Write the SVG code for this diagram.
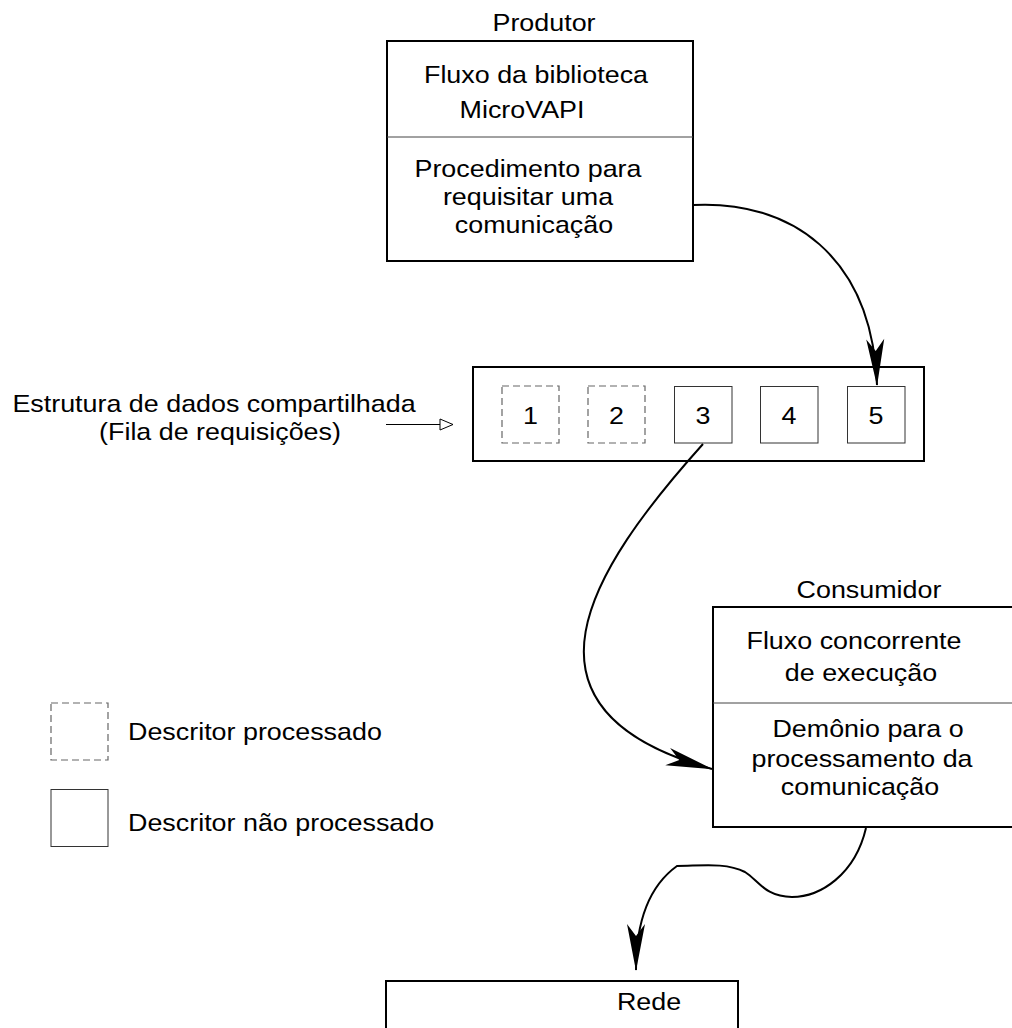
<svg xmlns="http://www.w3.org/2000/svg" width="1012" height="1028" viewBox="0 0 1012 1028">
  <style>
    text { font-family: "Liberation Sans", Arial, Helvetica, sans-serif; font-size: 24px; fill: #000; }
    .c { text-anchor: middle; }
    .box { fill: #fff; stroke: #000; stroke-width: 2; }
    .div { stroke: #444; stroke-width: 1; fill: none; }
    .slot { fill: #fff; stroke: #333; stroke-width: 1; }
    .done { fill: #fff; stroke: #666; stroke-width: 1.2; stroke-dasharray: 7 4; }
    .wire { fill: none; stroke: #000; stroke-width: 2; }
  </style>
  <defs>
    <!-- barbed filled arrowhead, tip at the path end -->
    <marker id="head" markerUnits="userSpaceOnUse" markerWidth="50" markerHeight="22" viewBox="-48 -11 50 22" refX="0" refY="0" orient="auto" overflow="visible">
      <path d="M1,0 L-46,-9 L-34,0 L-46,9 Z" fill="#000"/>
    </marker>
    <!-- open triangle pointer -->
    <marker id="open" markerUnits="userSpaceOnUse" markerWidth="16" markerHeight="14" viewBox="-14 -7 16 14" refX="0" refY="0" orient="auto" overflow="visible">
      <path d="M0,0 L-13,-5.5 L-13,5.5 Z" fill="#fff" stroke="#000" stroke-width="1"/>
    </marker>
  </defs>

  <rect width="1012" height="1028" fill="#fff"/>

  <!-- Produtor -->
  <g id="produtor">
    <text class="c" transform="translate(544 30.5) scale(1.12 1)">Produtor</text>
    <rect class="box" x="387" y="41" width="306" height="220"/>
    <line class="div" x1="387" y1="137" x2="693" y2="137"/>
    <text class="c" transform="translate(536 83) scale(1.12 1)">Fluxo da biblioteca</text>
    <text class="c" transform="translate(522 118) scale(1.12 1)">MicroVAPI</text>
    <text class="c" transform="translate(528 177) scale(1.12 1)">Procedimento para</text>
    <text class="c" transform="translate(528 205) scale(1.12 1)">requisitar uma</text>
    <text class="c" transform="translate(534 233) scale(1.12 1)">comunicação</text>
  </g>

  <!-- Fila de requisições -->
  <g id="fila">
    <text class="c" transform="translate(214 411.5) scale(1.12 1)">Estrutura de dados compartilhada</text>
    <text class="c" transform="translate(220 440) scale(1.12 1)">(Fila de requisições)</text>
    <rect class="box" x="473" y="367" width="451" height="94"/>
    <g id="d1"><rect class="done" x="502" y="386" width="57" height="57"/><text class="c" transform="translate(530.5 424) scale(1.12 1)">1</text></g>
    <g id="d2"><rect class="done" x="588" y="386" width="57" height="57"/><text class="c" transform="translate(616.5 424) scale(1.12 1)">2</text></g>
    <g id="d3"><rect class="slot" x="674.5" y="386.5" width="57.5" height="56.5"/><text class="c" transform="translate(703 424) scale(1.12 1)">3</text></g>
    <g id="d4"><rect class="slot" x="760.5" y="386.5" width="57.5" height="56.5"/><text class="c" transform="translate(789 424) scale(1.12 1)">4</text></g>
    <g id="d5"><rect class="slot" x="847.5" y="386.5" width="57.5" height="56.5"/><text class="c" transform="translate(876 424) scale(1.12 1)">5</text></g>
  </g>

  <!-- Consumidor -->
  <g id="consumidor">
    <text class="c" transform="translate(869 598) scale(1.12 1)">Consumidor</text>
    <rect class="box" x="713" y="607" width="308" height="220"/>
    <line class="div" x1="713" y1="703" x2="1012" y2="703"/>
    <text class="c" transform="translate(854 649) scale(1.12 1)">Fluxo concorrente</text>
    <text class="c" transform="translate(861 681) scale(1.12 1)">de execução</text>
    <text class="c" transform="translate(868 737) scale(1.12 1)">Demônio para o</text>
    <text class="c" transform="translate(862 766.5) scale(1.12 1)">processamento da</text>
    <text class="c" transform="translate(860 795) scale(1.12 1)">comunicação</text>
  </g>

  <!-- Rede -->
  <g id="rede">
    <rect class="box" x="386" y="981" width="352" height="70"/>
    <text class="c" transform="translate(649 1010) scale(1.12 1)">Rede</text>
  </g>

  <!-- Legenda -->
  <g id="legenda">
    <rect class="done" x="51" y="703" width="57" height="57"/>
    <text transform="translate(128 740) scale(1.12 1)">Descritor processado</text>
    <rect class="slot" x="51" y="789.5" width="57" height="57"/>
    <text transform="translate(128 831) scale(1.12 1)">Descritor não processado</text>
  </g>

  <!-- connectors -->
  <g id="connectors">
    <path class="wire" d="M693,205 C790,200 872,255 877,385" marker-end="url(#head)"/>
    <path class="wire" d="M703,444 C590,570 500,710 712,769" marker-end="url(#head)"/>
    <path class="wire" d="M866,828 C855,875 820,897 792,897 C765,897 758,880 745,872 C725,862 700,866 677,866 C652,884 636,915 636,970" marker-end="url(#head)"/>
    <path d="M386,424.5 L453,424.5" fill="none" stroke="#000" stroke-width="1" marker-end="url(#open)"/>
  </g>
</svg>
